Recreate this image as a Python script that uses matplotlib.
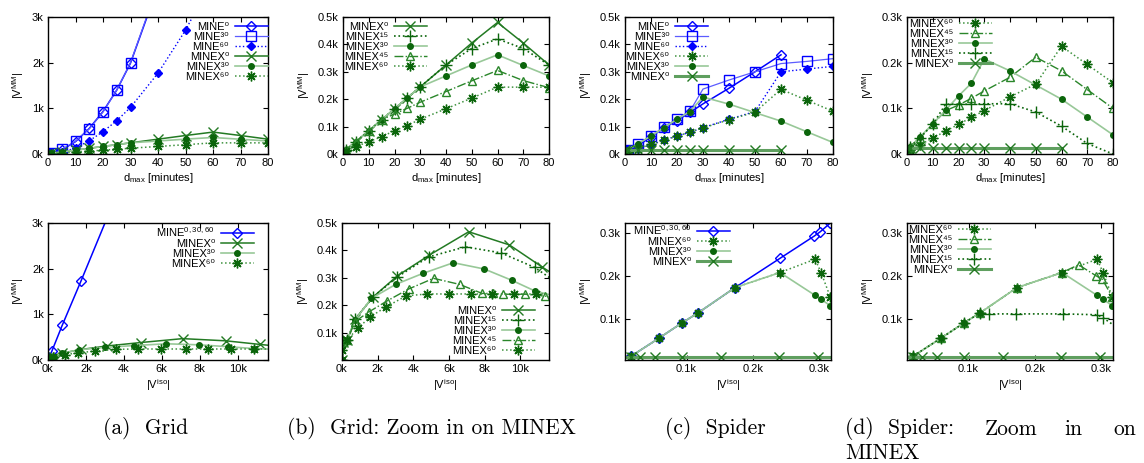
import matplotlib
matplotlib.use('Agg')
import matplotlib.pyplot as plt
from matplotlib.ticker import FuncFormatter

plt.rcParams['font.family'] = ['Liberation Sans', 'DejaVu Sans']
plt.rcParams['mathtext.default'] = 'regular'
plt.rcParams['font.size'] = 8

# ---- top row: |V^MM| (k) against d_max (minutes)
dmax = [0, 1, 5, 10, 15, 20, 25, 30, 40, 50, 60, 70, 80]

# grid
g_mine0 = [0.01, 0.02, 0.09, 0.27, 0.56, 0.93, 1.40, 1.99, 3.67]
g_mine30 = [0.01, 0.02, 0.10, 0.28, 0.55, 0.92, 1.40, 2.00, 3.70]
g_mine60 = [0.005, 0.01, 0.04, 0.13, 0.29, 0.49, 0.73, 1.02, 1.77, 2.71, 3.85]
g_minex0 = [0.01, 0.015, 0.045, 0.085, 0.125, 0.165, 0.205, 0.245, 0.325, 0.405, 0.48, 0.405, 0.325]
g_minex15 = [0.01, 0.015, 0.045, 0.085, 0.125, 0.165, 0.205, 0.245, 0.325, 0.385, 0.42, 0.385, 0.325]
g_minex30 = [0.01, 0.015, 0.045, 0.085, 0.125, 0.165, 0.205, 0.245, 0.285, 0.325, 0.362, 0.323, 0.285]
g_minex45 = [0.01, 0.015, 0.045, 0.085, 0.125, 0.146, 0.167, 0.189, 0.228, 0.267, 0.305, 0.268, 0.242]
g_minex60 = [0.005, 0.01, 0.027, 0.045, 0.063, 0.085, 0.104, 0.127, 0.165, 0.204, 0.244, 0.244, 0.244]

# spider
s_mine0 = [0.01, 0.012, 0.03, 0.063, 0.095, 0.122, 0.152, 0.183, 0.24, 0.30, 0.362]
s_mine30 = [0.01, 0.015, 0.037, 0.066, 0.098, 0.128, 0.157, 0.237, 0.27, 0.30, 0.33, 0.338, 0.348]
s_mine60 = [0.005, 0.008, 0.02, 0.033, 0.051, 0.066, 0.079, 0.096, 0.127, 0.155, 0.30, 0.31, 0.32]
s_minex0 = [0.014, 0.014, 0.014, 0.014, 0.014, 0.014, 0.014, 0.014, 0.014, 0.014, 0.014]
s_minex15 = [0.01, 0.015, 0.035, 0.065, 0.109, 0.109, 0.109, 0.11, 0.11, 0.092, 0.061, 0.023, 0.0]
s_minex30 = [0.01, 0.015, 0.037, 0.066, 0.096, 0.127, 0.155, 0.208, 0.182, 0.151, 0.12, 0.081, 0.042]
s_minex45 = [0.01, 0.015, 0.035, 0.065, 0.095, 0.107, 0.122, 0.138, 0.168, 0.212, 0.182, 0.141, 0.1]
s_minex60 = [0.005, 0.008, 0.02, 0.035, 0.05, 0.065, 0.08, 0.095, 0.125, 0.153, 0.236, 0.196, 0.156]

# ---- bottom row: |V^MM| (k) against |V^iso| (k)
gi_mine = [0.02, 0.2, 0.75, 1.75, 4.0]
gm_mine = [0.02, 0.19, 0.76, 1.74, 4.0]
gi_minex0 = [0.0, 0.07, 0.3, 0.72, 1.74, 3.1, 4.9, 7.1, 9.38, 11.2, 13.0]
gm_minex0 = [0.0, 0.066, 0.072, 0.148, 0.23, 0.307, 0.383, 0.468, 0.42, 0.34, 0.265]
gi_minex15 = [0.0, 0.07, 0.3, 0.72, 1.74, 3.1, 4.85, 6.91, 8.91, 10.79, 12.5]
gm_minex15 = [0.0, 0.066, 0.072, 0.148, 0.23, 0.303, 0.376, 0.413, 0.391, 0.338, 0.262]
gi_minex30 = [0.0, 0.07, 0.3, 0.72, 1.65, 3.01, 4.53, 6.24, 7.98, 9.51, 10.84, 12.5]
gm_minex30 = [0.0, 0.066, 0.072, 0.145, 0.225, 0.276, 0.316, 0.355, 0.332, 0.291, 0.251, 0.225]
gi_minex45 = [0.0, 0.07, 0.3, 0.72, 1.52, 2.51, 3.73, 5.13, 6.59, 7.85, 8.45, 9.03, 10.24, 11.4, 12.5]
gm_minex45 = [0.0, 0.066, 0.072, 0.14, 0.176, 0.215, 0.259, 0.298, 0.276, 0.243, 0.243, 0.24, 0.24, 0.233, 0.225]
gi_minex60 = [0.0, 0.02, 0.26, 0.88, 1.57, 2.47, 3.6, 4.76, 5.97, 7.25, 8.41, 9.63, 10.88, 12.5]
gm_minex60 = [0.0, 0.035, 0.072, 0.115, 0.157, 0.194, 0.234, 0.241, 0.241, 0.241, 0.241, 0.241, 0.241, 0.241]

si_mine = [0.0163, 0.0576, 0.0929, 0.117, 0.173, 0.241, 0.293, 0.302, 0.317]
sm_mine = [0.0139, 0.055, 0.091, 0.114, 0.173, 0.241, 0.293, 0.303, 0.323]
si_minex0 = [0.0, 0.0163, 0.030, 0.053, 0.093, 0.152, 0.240, 0.299, 0.33]
sm_minex0 = [0.013, 0.013, 0.013, 0.013, 0.013, 0.013, 0.013, 0.013, 0.013]
si_minex15 = [0.0163, 0.0576, 0.0929, 0.117, 0.131, 0.172, 0.243, 0.294, 0.303, 0.33]
sm_minex15 = [0.0139, 0.055, 0.091, 0.114, 0.112, 0.112, 0.112, 0.11, 0.103, 0.074]
si_minex30 = [0.0163, 0.0576, 0.0929, 0.117, 0.173, 0.241, 0.294, 0.303, 0.317]
sm_minex30 = [0.0139, 0.055, 0.091, 0.114, 0.173, 0.208, 0.155, 0.146, 0.131]
si_minex45 = [0.0163, 0.0576, 0.0929, 0.117, 0.173, 0.241, 0.266, 0.293, 0.302, 0.317]
sm_minex45 = [0.0139, 0.055, 0.091, 0.114, 0.173, 0.208, 0.226, 0.2, 0.192, 0.151]
si_minex60 = [0.0163, 0.0576, 0.0929, 0.117, 0.173, 0.241, 0.294, 0.303, 0.317]
sm_minex60 = [0.0139, 0.055, 0.091, 0.114, 0.173, 0.208, 0.239, 0.208, 0.151]

BLUE = '#0000ff'
LBLUE = '#5c5cff'
DG = '#0b650b'
st = {
 'MINE0': dict(color=BLUE, ls='-', lw=1.1, marker='D', ms=5, mfc='none', mec=BLUE, mew=1),
 'MINE30': dict(color=LBLUE, ls='-', lw=0.9, marker='s', ms=7, mfc='none', mec=BLUE, mew=1),
 'MINE60': dict(color=BLUE, ls=':', lw=1.0, marker='D', ms=4.5, mfc=BLUE, mec=BLUE),
 'MINEX0': dict(color='#237a23', ls='-', lw=1.1, marker='x', ms=7, mec='#237a23', mew=1),
 'MINEX0s': dict(color='#5f9f5f', ls='-', lw=2.2, marker='x', ms=7, mec='#237a23', mew=1),
 'MINEX15': dict(color=DG, ls=':', lw=1.2, marker='+', ms=8, mec=DG, mew=1),
 'MINEX30': dict(color='#98c898', ls='-', lw=1.2, marker='o', ms=4, mfc=DG, mec=DG),
 'MINEX45': dict(color='#2a862a', ls='-.', lw=1.0, marker='^', ms=6, mfc='none', mec='#2a862a', mew=1),
 'MINEX60': dict(color='#3f923f', ls=':', lw=1.1, marker=(8, 2, 0), ms=7, mec=DG, mew=1),
}

fig = plt.figure(figsize=(11.44, 4.63), dpi=100)
W, H = 1144, 463


def mkax(x0, x1, y0, y1):
    return fig.add_axes([x0 / W, 1 - y1 / H, (x1 - x0) / W, (y1 - y0) / H])


kfmt = FuncFormatter(lambda v, p: '{:g}k'.format(round(v, 3)))


def style(ax, xticks, xlim, yticks, ylim, xlab, kx):
    ax.set_xlim(xlim)
    ax.set_ylim(ylim)
    ax.set_xticks(xticks)
    ax.set_yticks(yticks)
    ax.yaxis.set_major_formatter(kfmt)
    if kx:
        ax.xaxis.set_major_formatter(kfmt)
    ax.tick_params(direction='in', top=True, right=True, length=3.5, width=0.8, labelsize=8, pad=3)
    for s in ax.spines.values():
        s.set_linewidth(1.0)
    ax.set_xlabel(xlab, fontsize=8, labelpad=2)
    ax.set_ylabel('|V$^{MM}$|', fontsize=8, labelpad=4)


# gnuplot-like key: text right-aligned, sample on the right
def leg(ax, loc, anchor):
    ax.legend(loc=loc, bbox_to_anchor=anchor, frameon=False, markerfirst=False, fontsize=8,
              handlelength=3.0, handletextpad=0.5, labelspacing=0.0, borderpad=0, borderaxespad=0)


SUP = str.maketrans('0123456789', '⁰¹²³⁴⁵⁶⁷⁸⁹')


def name(base, sup):
    if ',' in sup:
        return base + '$^{' + sup + '}$'
    return base + sup.translate(SUP)


DX = 'd$_{max}$ [minutes]'
IX = '|V$^{iso}$|'
ten = list(range(0, 81, 10))

# (a) top
ax = mkax(48, 268, 17, 154)
ax.plot(dmax[:len(g_mine0)], g_mine0, label=name('MINE', '0'), **st['MINE0'])
ax.plot(dmax[:len(g_mine30)], g_mine30, label=name('MINE', '30'), **st['MINE30'])
ax.plot(dmax[:len(g_mine60)], g_mine60, label=name('MINE', '60'), **st['MINE60'])
ax.plot(dmax, g_minex0, label=name('MINEX', '0'), **st['MINEX0'])
ax.plot(dmax, g_minex30, label=name('MINEX', '30'), **st['MINEX30'])
ax.plot(dmax, g_minex60, label=name('MINEX', '60'), **st['MINEX60'])
style(ax, ten, (0, 80), [0, 1, 2, 3], (0, 3), DX, False)
leg(ax, 'upper right', (1.0, 0.965))

# (b) top
ax = mkax(343, 549, 17, 154)
for k, v in [('0', g_minex0), ('15', g_minex15), ('30', g_minex30), ('45', g_minex45), ('60', g_minex60)]:
    ax.plot(dmax, v, label=name('MINEX', k), **st['MINEX' + k])
style(ax, ten, (0, 80), [0, 0.1, 0.2, 0.3, 0.4, 0.5], (0, 0.5), DX, False)
leg(ax, 'upper right', (0.408, 0.965))

# (c) top
ax = mkax(625, 833, 17, 154)
ax.plot(dmax[:len(s_mine0)], s_mine0, label=name('MINE', '0'), **st['MINE0'])
ax.plot(dmax, s_mine30, label=name('MINE', '30'), **st['MINE30'])
ax.plot(dmax, s_mine60, label=name('MINE', '60'), **st['MINE60'])
ax.plot(dmax, s_minex60, label=name('MINEX', '60'), **st['MINEX60'])
ax.plot(dmax, s_minex30, label=name('MINEX', '30'), **st['MINEX30'])
ax.plot(dmax[:len(s_minex0)], s_minex0, label=name('MINEX', '0'), **st['MINEX0s'])
style(ax, ten, (0, 80), [0, 0.1, 0.2, 0.3, 0.4, 0.5], (0, 0.5), DX, False)
leg(ax, 'upper right', (0.40, 0.965))

# (d) top
ax = mkax(907, 1113, 17, 154)
ax.plot(dmax, s_minex60, label=name('MINEX', '60'), **st['MINEX60'])
ax.plot(dmax, s_minex45, label=name('MINEX', '45'), **st['MINEX45'])
ax.plot(dmax, s_minex30, label=name('MINEX', '30'), **st['MINEX30'])
ax.plot(dmax, s_minex15, label=name('MINEX', '15'), **st['MINEX15'])
ax.plot(dmax[:len(s_minex0)], s_minex0, label=name('MINEX', '0'), **st['MINEX0s'])
style(ax, ten, (0, 80), [0, 0.1, 0.2, 0.3], (0, 0.3), DX, False)
leg(ax, 'upper right', (0.413, 0.985))

# (a) bottom
ax = mkax(48, 268, 223, 360)
ax.plot(gi_mine, gm_mine, label=name('MINE', '0,30,60'), **st['MINE0'])
ax.plot(gi_minex0, gm_minex0, label=name('MINEX', '0'), **st['MINEX0'])
ax.plot(gi_minex30, gm_minex30, label=name('MINEX', '30'), **st['MINEX30'])
ax.plot(gi_minex60, gm_minex60, label=name('MINEX', '60'), **st['MINEX60'])
style(ax, [0, 2, 4, 6, 8, 10], (0, 11.6), [0, 1, 2, 3], (0, 3), IX, True)
leg(ax, 'upper right', (0.936, 0.985))

# (b) bottom
ax = mkax(342, 549, 223, 360)
for k, xi, ym in [('0', gi_minex0, gm_minex0), ('15', gi_minex15, gm_minex15), ('30', gi_minex30, gm_minex30),
                  ('45', gi_minex45, gm_minex45), ('60', gi_minex60, gm_minex60)]:
    ax.plot(xi, ym, label=name('MINEX', k), **st['MINEX' + k])
style(ax, [0, 2, 4, 6, 8, 10], (0, 11.6), [0.1, 0.2, 0.3, 0.4, 0.5], (0, 0.5), IX, True)
leg(ax, 'lower right', (0.932, 0.03))

# (c) bottom
ax = mkax(625, 831, 223, 360)
ax.plot(si_mine, sm_mine, label=name('MINE', '0,30,60'), **st['MINE0'])
ax.plot(si_minex60, sm_minex60, label=name('MINEX', '60'), **st['MINEX60'])
ax.plot(si_minex30, sm_minex30, label=name('MINEX', '30'), **st['MINEX30'])
ax.plot(si_minex0, sm_minex0, label=name('MINEX', '0'), **st['MINEX0s'])
style(ax, [0.1, 0.2, 0.3], (0.007, 0.318), [0.1, 0.2, 0.3], (0.005, 0.323), IX, True)
leg(ax, 'upper right', (0.51, 1.0))

# (d) bottom
ax = mkax(907, 1113, 223, 360)
ax.plot(si_minex60, sm_minex60, label=name('MINEX', '60'), **st['MINEX60'])
ax.plot(si_minex45, sm_minex45, label=name('MINEX', '45'), **st['MINEX45'])
ax.plot(si_minex30, sm_minex30, label=name('MINEX', '30'), **st['MINEX30'])
ax.plot(si_minex15, sm_minex15, label=name('MINEX', '15'), **st['MINEX15'])
ax.plot(si_minex0, sm_minex0, label=name('MINEX', '0'), **st['MINEX0s'])
style(ax, [0.1, 0.2, 0.3], (0.007, 0.318), [0.1, 0.2, 0.3], (0.005, 0.323), IX, True)
leg(ax, 'upper right', (0.408, 0.985))

# captions
cf = dict(family=['cmr10', 'DejaVu Serif'], fontsize=15.5, va='center')
fig.text(146 / W, 1 - 429 / H, '(a)  Grid', ha='center', **cf)
fig.text(431 / W, 1 - 429 / H, '(b)  Grid: Zoom in on MINEX', ha='center', **cf)
fig.text(715 / W, 1 - 429 / H, '(c)  Spider', ha='center', **cf)
fig.text(845 / W, 1 - 429 / H, '(d)  Spider:', ha='left', **cf)
fig.text(985 / W, 1 - 429 / H, 'Zoom', ha='left', **cf)
fig.text(1064 / W, 1 - 429 / H, 'in', ha='left', **cf)
fig.text(1113 / W, 1 - 429 / H, 'on', ha='left', **cf)
fig.text(845 / W, 1 - 453 / H, 'MINEX', ha='left', **cf)

fig.savefig('out.png', dpi=100)
